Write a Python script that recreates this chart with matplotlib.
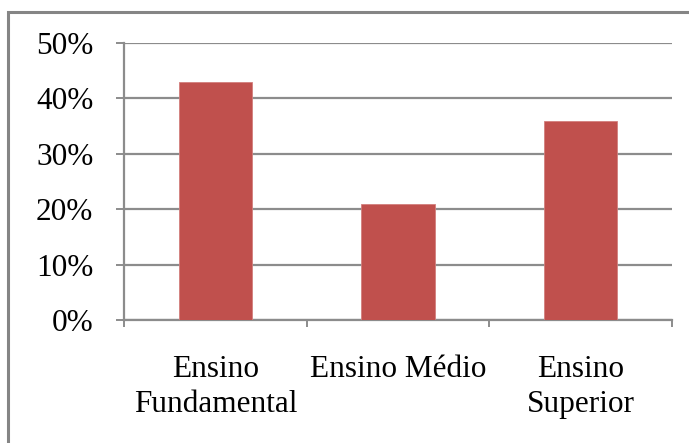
import matplotlib
matplotlib.use("Agg")
import matplotlib.pyplot as plt
from matplotlib.patches import Rectangle
from matplotlib.ticker import FuncFormatter

categories = ["Ensino\nFundamental", "Ensino Médio", "Ensino\nSuperior"]
values = [0.43, 0.21, 0.36]
yticks = [0.0, 0.1, 0.2, 0.3, 0.4, 0.5]

plt.rcParams['font.family'] = ['Liberation Serif', 'DejaVu Serif']

W, H = 689, 443
fig = plt.figure(figsize=(W / 100, H / 100), dpi=100)
ax = fig.add_axes([124 / W, 1 - 320 / H, (672 - 124) / W, (320 - 43) / H])

grid_c = "#8c8c8c"
x = list(range(len(categories)))
ax.bar(x, values, width=0.4, color="#C0504D", edgecolor="#d27f7d", linewidth=0.6, zorder=3)
ax.set_xlim(-0.5, len(categories) - 0.5)
ax.set_ylim(0, 0.5)
ax.set_yticks(yticks)
ax.yaxis.set_major_formatter(FuncFormatter(lambda v, p: f"{round(v * 100):d}%"))
ax.yaxis.grid(True, color=grid_c, linewidth=1.6, zorder=0)
ax.set_axisbelow(True)

ax.set_xticks([i - 0.5 for i in range(len(categories) + 1)])
ax.set_xticklabels([])
ax.set_xticks(x, minor=True)
ax.set_xticklabels(categories, minor=True, fontsize=22.5, linespacing=1.3)
ax.tick_params(axis='x', which='minor', length=0, pad=25)
ax.tick_params(axis='x', which='major', direction='out', length=5, width=1.4, color=grid_c)
ax.tick_params(axis='y', direction='out', length=6, width=1.4, color=grid_c, labelsize=22.5, pad=16)

for s in ['top', 'right']:
    ax.spines[s].set_visible(False)
for s in ['left', 'bottom']:
    ax.spines[s].set_color(grid_c)
    ax.spines[s].set_linewidth(1.6)

fig.patches.append(Rectangle((8 / W, -0.1), 1.2, 1 - 12 / H + 0.1, transform=fig.transFigure,
                             fill=False, edgecolor="#858585", linewidth=2.2))

fig.savefig("out.png", dpi=100)
